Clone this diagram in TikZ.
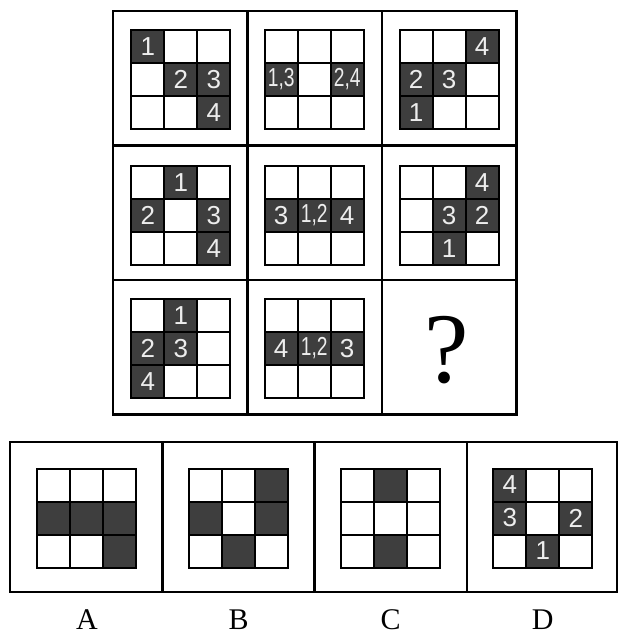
\documentclass[tikz,border=0pt]{standalone}
\usepackage{fontspec}
\setmainfont{Liberation Serif}
\newfontfamily\digitfont{Liberation Sans}
\usepackage{tikz}
\usetikzlibrary{calc,positioning}
\definecolor{cellDark}{HTML}{3E3E3E}
\definecolor{digitGray}{HTML}{EDEDED}

\tikzset{
  frame/.style={line width=1.2pt},
  gridline/.style={line width=1pt},
  darkcell/.style={fill=cellDark},
  digit/.style={text=digitGray, inner sep=0pt, font=\digitfont\fontsize{13}{13}\selectfont},
  optlabel/.style={inner sep=0pt, font=\fontsize{15}{15}\selectfont},
}

% narrow pair of numbers such as 1,3
\newcommand{\tightpair}[1]{\scalebox{0.74}[1]{#1}}

% 3x3 small grid: #1 centre, #2 name, #3 list row/col/label of dark cells
\newcommand{\puzzlegrid}[3]{%
  \begin{scope}[shift={(#1)}]
    \foreach \r/\c/\lab in {#3} {
      \fill[darkcell] ({(\c-2)*33-16.5},{(\r-2)*33-16.5}) rectangle +(33,33);
      \node[digit] (#2-\r-\c) at ({(\c-2)*33},{(\r-2)*33}) {\lab};
    }
    \foreach \k in {-16.5,16.5} {
      \draw[gridline] (\k,-49.5) -- (\k,49.5);
      \draw[gridline] (-49.5,\k) -- (49.5,\k);
    }
    \draw[gridline] (-49.5,-49.5) rectangle (49.5,49.5);
  \end{scope}}

\begin{document}
\begin{tikzpicture}[x=0.5pt,y=-0.5pt]
      \useasboundingbox (0,0) rectangle (619,635);

      % question matrix: outer frame and cell separators
      \coordinate (M0) at (113,11);
      \coordinate (M1) at (516.5,414.5);
      \draw[frame] (M0) rectangle (M1);
      \foreach \k in {247.5,382} {
        \draw[frame] (\k,11) -- (\k,414.5);
      }
      \foreach \k in {145.5,280} {
        \draw[frame] (113,\k) -- (516.5,\k);
      }

      % centres of the nine small grids
      \coordinate (G11) at (180.9,79.5);
      \coordinate (G12) at (314.2,79.5);
      \coordinate (G13) at (449.2,79.5);
      \coordinate (G21) at (180.9,215.5);
      \coordinate (G22) at (314.2,215.5);
      \coordinate (G23) at (449.2,215.5);
      \coordinate (G31) at (180.9,348.5);
      \coordinate (G32) at (314.2,348.5);

      % first row
      \puzzlegrid{G11}{g11}{1/1/1, 2/2/2, 2/3/3, 3/3/4}
      \puzzlegrid{G12}{g12}{2/1/{\tightpair{1,3}}, 2/3/{\tightpair{2,4}}}
      \puzzlegrid{G13}{g13}{1/3/4, 2/1/2, 2/2/3, 3/1/1}

      % second row
      \puzzlegrid{G21}{g21}{1/2/1, 2/1/2, 2/3/3, 3/3/4}
      \puzzlegrid{G22}{g22}{2/1/3, 2/2/{\tightpair{1,2}}, 2/3/4}
      \puzzlegrid{G23}{g23}{1/3/4, 2/2/3, 2/3/2, 3/2/1}

      % third row
      \puzzlegrid{G31}{g31}{1/2/1, 2/1/2, 2/2/3, 3/1/4}
      \puzzlegrid{G32}{g32}{2/1/4, 2/2/{\tightpair{1,2}}, 2/3/3}
      \node[inner sep=0pt, font=\fontsize{50}{50}\selectfont] (qmark) at (447,350) {?};

      % answer strip
      \coordinate (S0) at (10,442);
      \coordinate (S1) at (617,592);
      \draw[frame] (S0) rectangle (S1);
      \foreach \k in {162.4,314.6,466.8} {
        \draw[frame] (\k,442) -- (\k,592);
      }

      \coordinate (OA) at (86.3,518);
      \coordinate (OB) at (238.5,518);
      \coordinate (OC) at (390.6,518);
      \coordinate (OD) at (542.8,518);

      \puzzlegrid{OA}{oa}{2/1/{}, 2/2/{}, 2/3/{}, 3/3/{}}
      \puzzlegrid{OB}{ob}{1/3/{}, 2/1/{}, 2/3/{}, 3/2/{}}
      \puzzlegrid{OC}{oc}{1/2/{}, 3/2/{}}
      \puzzlegrid{OD}{od}{1/1/4, 2/1/3, 2/3/2, 3/2/1}

      % option letters
      \node[optlabel] (labA) at (87,620) {A};
      \node[optlabel] (labB) at (238.5,620) {B};
      \node[optlabel] (labC) at (390.6,620) {C};
      \node[optlabel] (labD) at (542.8,620) {D};
    \end{tikzpicture}
\end{document}
